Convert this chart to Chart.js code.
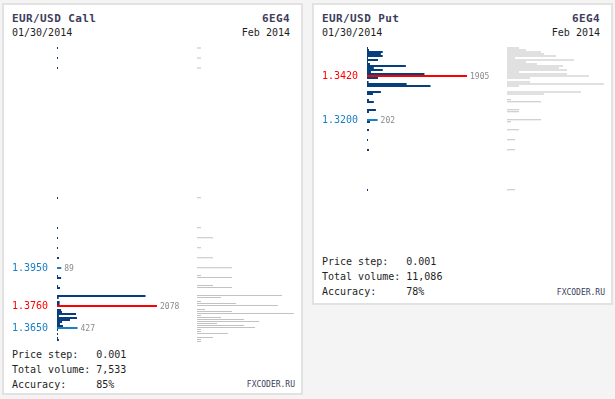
<!DOCTYPE html>
<html>
<head>
<meta charset="utf-8">
<script src="https://cdn.jsdelivr.net/npm/chart.js@4.4.1/dist/chart.umd.min.js"></script>
<style>
  body { margin:0; width:615px; height:399px; background:#f4f4f4; position:relative; overflow:hidden;
         font-family:'DejaVu Sans Mono', monospace; }
  .panel { position:absolute; top:3px; width:301px; background:#fff; border:2px solid #e2e2e2; box-sizing:border-box; }
  .panel canvas { position:absolute; }
  .t { position:absolute; top:7px; left:8px; font-size:11px; font-weight:bold; line-height:14px; letter-spacing:.4px; color:#3d3d5c; }
  .d { position:absolute; top:20.5px; left:8px; font-size:10px; line-height:14px; color:#1e1e1e; }
  .r { left:auto; right:11px; }
  .f { position:absolute; left:8px; font-size:10px; line-height:15px; white-space:pre; color:#1e1e1e; }
  .brand { position:absolute; right:6px; font-size:8px; line-height:10px; color:#3d3d5c; }
</style>
</head>
<body>

<div class="panel" style="left:2px;height:392px">
  <div class="t">EUR/USD Call</div><div class="t r">6EG4</div>
  <div class="d">01/30/2014</div><div class="d r">Feb 2014</div>
  <canvas id="callBars" width="190" height="296" style="left:0;top:42px"></canvas>
  <canvas id="callPrior" width="97" height="296" style="left:193px;top:42px"></canvas>
  <div class="f" style="top:341.7px">Price step:   0.001
Total volume: 7,533
Accuracy:     85%</div>
  <div class="brand" style="top:374.5px">FXCODER.RU</div>
</div>

<div class="panel" style="left:312px;height:302px">
  <div class="t">EUR/USD Put</div><div class="t r">6EG4</div>
  <div class="d">01/30/2014</div><div class="d r">Feb 2014</div>
  <canvas id="putBars" width="190" height="204" style="left:0;top:42px"></canvas>
  <canvas id="putPrior" width="97" height="204" style="left:193px;top:42px"></canvas>
  <div class="f" style="top:249.3px">Price step:   0.001
Total volume: 11,086
Accuracy:     78%</div>
  <div class="brand" style="top:282.5px">FXCODER.RU</div>
</div>

<script>
// Call side
const callPrices = [1.5050, 1.5000, 1.4950, 1.4300, 1.4150, 1.4100, 1.4050, 1.4000, 1.3950, 1.3910,
                    1.3900, 1.3860, 1.3850, 1.3810, 1.3800, 1.3780, 1.3770, 1.3760, 1.3740, 1.3730,
                    1.3720, 1.3710, 1.3700, 1.3690, 1.3680, 1.3670, 1.3660, 1.3650, 1.3640, 1.3630,
                    1.3620, 1.3600, 1.3590, 1.3580];
const callVolume = [21, 21, 21, 21, 21, 21, 21, 42, 89, 21,
                    85, 21, 62, 1840, 35, 55, 55, 2078, 85, 105,
                    395, 40, 415, 270, 105, 62, 125, 427, 21, 0,
                    21, 21, 40, 0];
const callPrior  = [40, 40, 40, 40, 40, 160, 40, 160, 350, 40,
                    350, 160, 350, 850, 240, 40, 390, 810, 80, 350,
                    970, 40, 240, 470, 620, 200, 470, 580, 40, 40,
                    310, 160, 40, 40];
const callLevels = [1.3950, 1.3760, 1.3650];
const callPeak = 1.3760;
const callRange = [1.3575, 1.5055];

// Put side
const putPrices = [1.3560, 1.3550, 1.3540, 1.3530, 1.3520, 1.3510, 1.3500, 1.3490, 1.3480, 1.3470,
                   1.3460, 1.3450, 1.3440, 1.3430, 1.3420, 1.3410, 1.3390, 1.3380, 1.3370, 1.3340,
                   1.3330, 1.3300, 1.3290, 1.3250, 1.3240, 1.3200, 1.3190, 1.3150, 1.3100, 1.3050,
                   1.2850];
const putVolume = [19, 38, 300, 265, 300, 19, 210, 19, 57, 740,
                   130, 300, 75, 1095, 1905, 210, 30, 755, 1210, 265,
                   115, 38, 130, 170, 38, 202, 57, 38, 19, 38,
                   19];
const putPrior  = [120, 190, 340, 370, 490, 80, 670, 190, 300, 560,
                   520, 600, 120, 600, 820, 230, 230, 970, 120, 740,
                   370, 40, 340, 120, 120, 340, 40, 120, 80, 80,
                   80];
const putLevels = [1.3420, 1.3200];
const putPeak = 1.3420;
const putRange = [1.2545, 1.3565];

const DARK = '#073f7d', LIGHT = '#1a80c2', RED = '#ff0000', GREY = '#c2c2c2';

function barColor(levels, peak) {
  return ctx => {
    const p = ctx.raw.y;
    if (p === peak) return RED;
    if (levels.includes(p)) return LIGHT;
    return DARK;
  };
}

// writes the volume next to the marked levels
function valueLabels(levels) {
  return {
    id: 'valueLabels',
    afterDatasetsDraw(chart) {
      const ctx = chart.ctx;
      const meta = chart.getDatasetMeta(0);
      const ds = chart.data.datasets[0].data;
      ctx.save();
      ctx.font = '8px "DejaVu Sans Mono"';
      ctx.fillStyle = '#8a8a8a';
      ctx.textBaseline = 'middle';
      meta.data.forEach((bar, i) => {
        if (levels.includes(ds[i].y)) ctx.fillText(ds[i].x, bar.x + 3, bar.y + 0.5);
      });
      ctx.restore();
    }
  };
}

function drawPanel(barsId, priorId, prices, volume, prior, levels, peak, range) {
  new Chart(document.getElementById(barsId), {
    type: 'bar',
    data: {
      datasets: [{
        data: prices.map((p, i) => ({ x: volume[i], y: p })),
        backgroundColor: barColor(levels, peak),
        barThickness: 2,
        borderWidth: 0,
        inflateAmount: 0
      }]
    },
    options: {
      indexAxis: 'y',
      responsive: false,
      animation: false,
      layout: { padding: { left: 0, right: 37, top: 0, bottom: 0 } },
      plugins: { legend: { display: false }, tooltip: { enabled: false } },
      scales: {
        x: { display: false, min: 0, max: Math.max(...volume) },
        y: {
          type: 'linear', min: range[0], max: range[1], offset: false,
          grid: { display: false, drawTicks: false },
          border: { display: false },
          afterFit: s => { s.width = 53; s.paddingTop = 0; s.paddingBottom = 0; },
          afterBuildTicks: s => { s.ticks = levels.map(v => ({ value: v })); },
          ticks: {
            autoSkip: false,
            padding: 9,
            font: { family: 'DejaVu Sans Mono', size: 10 },
            color: c => c.tick.value === peak ? RED : LIGHT,
            callback: v => v.toFixed(4)
          }
        }
      }
    },
    plugins: [valueLabels(levels)]
  });

  new Chart(document.getElementById(priorId), {
    type: 'bar',
    data: {
      datasets: [{
        data: prices.map((p, i) => ({ x: prior[i], y: p })),
        backgroundColor: GREY,
        barThickness: 1,
        borderWidth: 0,
        inflateAmount: 0
      }]
    },
    options: {
      indexAxis: 'y',
      responsive: false,
      animation: false,
      layout: { padding: { left: 0, right: 0, top: -0.5, bottom: 0.5 } },
      plugins: { legend: { display: false }, tooltip: { enabled: false } },
      scales: {
        x: { display: false, min: 0, max: Math.max(...prior) },
        y: { display: false, type: 'linear', min: range[0], max: range[1], offset: false }
      }
    }
  });
}

drawPanel('callBars', 'callPrior', callPrices, callVolume, callPrior, callLevels, callPeak, callRange);
drawPanel('putBars', 'putPrior', putPrices, putVolume, putPrior, putLevels, putPeak, putRange);
</script>
</body>
</html>
